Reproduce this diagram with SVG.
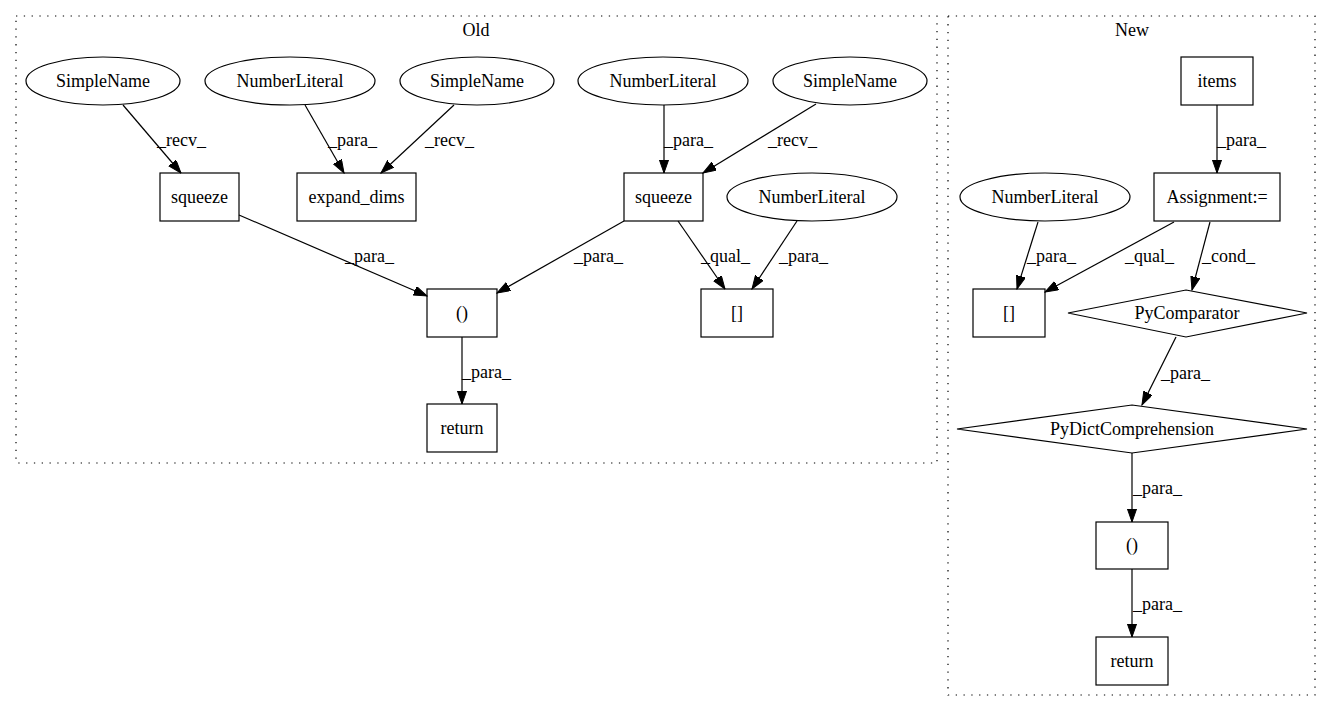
<svg xmlns="http://www.w3.org/2000/svg" width="1331" height="712" viewBox="0 0 1331 712">
<style>
text{font-family:"Liberation Serif","Times New Roman",serif;font-size:18px;fill:#000}
.n{text-anchor:middle}
.shape{fill:none;stroke:#000;stroke-width:1.2}
.cl{fill:none;stroke:#000;stroke-width:1.2;stroke-dasharray:1.3,6.5}
.e{fill:none;stroke:#000;stroke-width:1.2;marker-end:url(#arr)}
</style>
<defs>
<marker id="arr" markerWidth="14" markerHeight="10" refX="13.3" refY="4.67" orient="auto" markerUnits="userSpaceOnUse">
<path d="M0,0 L13.3,4.67 L0,9.33 z" fill="#000" stroke="#000" stroke-width="1"/>
</marker>
</defs>
<rect width="1331" height="712" fill="#fff"/>
<g id="cluster_old">
<rect class="cl" x="16" y="16" width="921" height="447"/>
<text class="n" x="476" y="36">Old</text>
</g>
<g id="cluster_new">
<rect class="cl" x="948" y="16" width="367" height="679"/>
<text class="n" x="1132" y="36">New</text>
</g>
<g id="connectors">
<path class="e" d="M123,105 L181,173"/>
<text x="157" y="146">_recv_</text>
<path class="e" d="M305,105 L344,173"/>
<text x="328" y="146">_para_</text>
<path class="e" d="M454,105 L381,173"/>
<text x="425" y="146">_recv_</text>
<path class="e" d="M664,105 L664,173"/>
<text x="664" y="146">_para_</text>
<path class="e" d="M816,104 L703,173"/>
<text x="768" y="146">_recv_</text>
<path class="e" d="M239,215 L427,296"/>
<text x="345" y="262">_para_</text>
<path class="e" d="M624,221 L497,293"/>
<text x="574" y="262">_para_</text>
<path class="e" d="M678,221 L725,289"/>
<text x="701" y="262">_qual_</text>
<path class="e" d="M797,221 L752,289"/>
<text x="779" y="262">_para_</text>
<path class="e" d="M462,337 L462,404"/>
<text x="462" y="378">_para_</text>
<path class="e" d="M1217,105 L1217,173"/>
<text x="1217" y="146">_para_</text>
<path class="e" d="M1038,222 L1017,289"/>
<text x="1027" y="262">_para_</text>
<path class="e" d="M1174,222 L1045,292"/>
<text x="1125" y="262">_qual_</text>
<path class="e" d="M1210,222 L1192,290"/>
<text x="1202" y="262">_cond_</text>
<path class="e" d="M1176,337 L1142,405"/>
<text x="1161" y="379">_para_</text>
<path class="e" d="M1132,453 L1132,522"/>
<text x="1133" y="494">_para_</text>
<path class="e" d="M1132,569 L1132,637"/>
<text x="1133" y="610">_para_</text>
</g>
<g id="old_simplename1"><ellipse class="shape" cx="103" cy="81" rx="77" ry="24"/><text class="n" x="103" y="87">SimpleName</text></g>
<g id="old_numberliteral1"><ellipse class="shape" cx="290" cy="81" rx="85" ry="24"/><text class="n" x="290" y="87">NumberLiteral</text></g>
<g id="old_simplename2"><ellipse class="shape" cx="477" cy="81" rx="77" ry="24"/><text class="n" x="477" y="87">SimpleName</text></g>
<g id="old_numberliteral2"><ellipse class="shape" cx="663" cy="81" rx="85" ry="24"/><text class="n" x="663" y="87">NumberLiteral</text></g>
<g id="old_simplename3"><ellipse class="shape" cx="850" cy="81" rx="77" ry="24"/><text class="n" x="850" y="87">SimpleName</text></g>
<g id="old_squeeze1"><rect class="shape" x="160" y="173" width="79" height="48"/><text class="n" x="199.5" y="203">squeeze</text></g>
<g id="old_expand_dims"><rect class="shape" x="297" y="173" width="119" height="48"/><text class="n" x="356.5" y="203">expand_dims</text></g>
<g id="old_squeeze2"><rect class="shape" x="624" y="173" width="79" height="48"/><text class="n" x="663.5" y="203">squeeze</text></g>
<g id="old_numberliteral3"><ellipse class="shape" cx="812" cy="197" rx="85" ry="24"/><text class="n" x="812" y="203">NumberLiteral</text></g>
<g id="old_call"><rect class="shape" x="427" y="289" width="70" height="48"/><text class="n" x="462" y="319">()</text></g>
<g id="old_index"><rect class="shape" x="701" y="289" width="72" height="48"/><text class="n" x="737" y="319">[]</text></g>
<g id="old_return"><rect class="shape" x="427" y="404" width="70" height="48"/><text class="n" x="462" y="434">return</text></g>
<g id="new_items"><rect class="shape" x="1181" y="57" width="72" height="48"/><text class="n" x="1217" y="87">items</text></g>
<g id="new_assignment"><rect class="shape" x="1154" y="173" width="126" height="48"/><text class="n" x="1217" y="203">Assignment:=</text></g>
<g id="new_numberliteral"><ellipse class="shape" cx="1045" cy="197" rx="85" ry="24"/><text class="n" x="1045" y="203">NumberLiteral</text></g>
<g id="new_index"><rect class="shape" x="973" y="289" width="72" height="48"/><text class="n" x="1009" y="319">[]</text></g>
<g id="new_pycomparator"><polygon class="shape" points="1186,290 1307,313 1186,337 1068,313"/><text class="n" x="1187" y="319">PyComparator</text></g>
<g id="new_pydictcomprehension"><polygon class="shape" points="1132,405 1307,429 1132,453 957,429"/><text class="n" x="1132" y="435">PyDictComprehension</text></g>
<g id="new_call"><rect class="shape" x="1096" y="522" width="72" height="47"/><text class="n" x="1132" y="551">()</text></g>
<g id="new_return"><rect class="shape" x="1096" y="637" width="72" height="48"/><text class="n" x="1132" y="667">return</text></g>
</svg>
